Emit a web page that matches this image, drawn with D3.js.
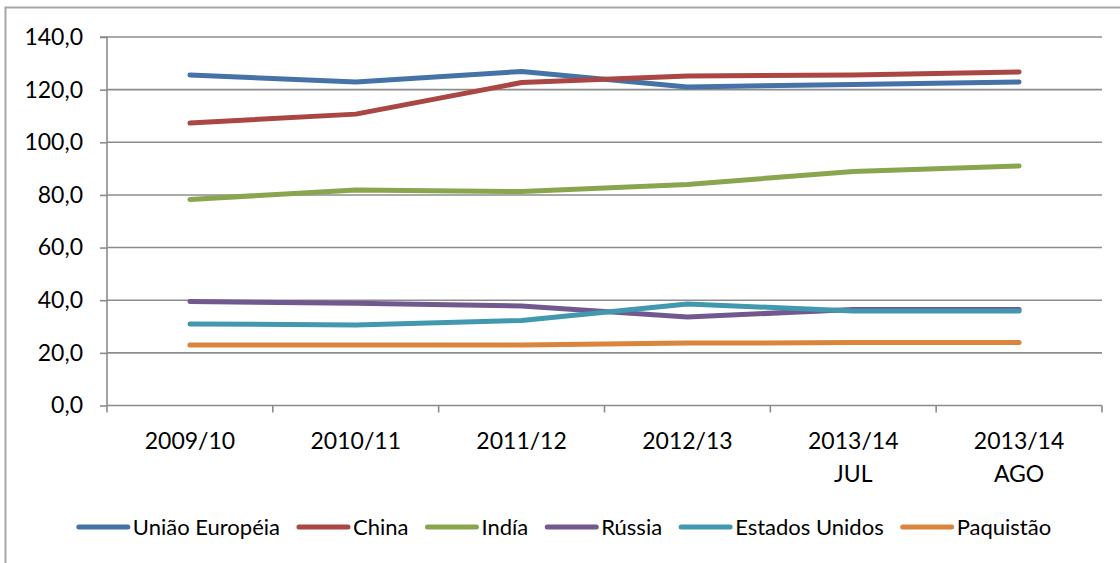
<!DOCTYPE html>
<html><head><meta charset="utf-8">
<script src="https://cdn.jsdelivr.net/npm/d3@7"></script>
<style>body{margin:0;background:#fff}svg{display:block}text{font-family:Lato,"Open Sans",sans-serif;fill:#000}</style>
</head><body><svg id="c" width="1120" height="563"></svg>
<script>
const categories = [["2009/10"],["2010/11"],["2011/12"],["2012/13"],["2013/14","JUL"],["2013/14","AGO"]];
const seriesNames = ["União Européia","China","Indía","Rússia","Estados Unidos","Paquistão"];
const seriesColors = ["#4572A7","#AA4643","#89A54E","#71588F","#4198AF","#DB843D"];
const uniaoEuropeia = [125.6,122.9,126.9,121.0,122.0,122.9];
const china = [107.3,110.7,122.7,125.2,125.6,126.7];
const india = [78.3,81.9,81.3,84.0,88.9,91.0];
const russia = [39.5,38.8,37.8,33.6,36.5,36.5];
const estadosUnidos = [31.0,30.6,32.3,38.6,35.9,35.9];
const paquistao = [23.0,23.0,23.0,23.7,23.9,23.9];
const yTicks = [0,20,40,60,80,100,120,140];
const seriesValues = [uniaoEuropeia,china,india,russia,estadosUnidos,paquistao];

const svg = d3.select("#c");
const L=107, R=1102, T=37, B=405.5;
const FS = "23px", LFS = "22px";
// frame
svg.append("rect").attr("x",5.5).attr("y",7.5).attr("width",1130).attr("height",600)
  .attr("fill","none").attr("stroke","#a6a6a6").attr("stroke-width",2);

const x = d3.scaleBand().domain(categories.map((d,i)=>i)).range([L,R]).padding(0);
const y = d3.scaleLinear().domain([0,140]).range([B,T]);
const fmt = v => d3.format(".1f")(v).replace(".",",");

// grid
svg.append("g").selectAll("line").data(yTicks.filter(v=>v>0)).join("line")
  .attr("x1",L).attr("x2",R).attr("y1",d=>y(d)).attr("y2",d=>y(d))
  .attr("stroke","#8c8c8c").attr("stroke-width",1.6);

// y axis
const ya = svg.append("g").attr("transform",`translate(${L},0)`)
  .call(d3.axisLeft(y).tickValues(yTicks).tickFormat(fmt).tickSize(7).tickPadding(17));
ya.attr("font-family",null).attr("font-size",null);
ya.select(".domain").attr("stroke","#8c8c8c").attr("stroke-width",1.6).attr("d",`M-7,${T}H0V${B}`);
ya.selectAll(".tick line").attr("stroke","#8c8c8c").attr("stroke-width",1.6);
ya.selectAll(".tick text").style("font-size",FS).attr("fill","#000");

// x axis
const xa = svg.append("g").attr("transform",`translate(0,${B})`);
xa.append("line").attr("x1",L).attr("x2",R).attr("stroke","#8c8c8c").attr("stroke-width",1.6);
const bounds = d3.range(categories.length+1).map(i=> i<categories.length ? x(i) : x(i-1)+x.bandwidth());
xa.selectAll(".xt").data(bounds).join("line").attr("class","xt")
  .attr("x1",d=>d).attr("x2",d=>d).attr("y1",0).attr("y2",7)
  .attr("stroke","#8c8c8c").attr("stroke-width",1.6);
const lab = xa.selectAll(".xl").data(categories).join("text").attr("class","xl")
  .attr("text-anchor","middle").style("font-size",FS)
  .attr("transform",(d,i)=>`translate(${x(i)+x.bandwidth()/2},0)`);
lab.selectAll("tspan").data(d=>d).join("tspan").attr("x",0).attr("y",(d,j)=>43+j*33).text(d=>d);

// lines
const line = d3.line().x((d,i)=>x(i)+x.bandwidth()/2).y(d=>y(d));
svg.append("g").selectAll("path").data(seriesValues).join("path")
  .attr("d",line).attr("fill","none").attr("stroke",(d,i)=>seriesColors[i])
  .attr("stroke-width",5).attr("stroke-linecap","round").attr("stroke-linejoin","round");

// legend
const lg = svg.append("g");
const ly = 527, sw = 53, gapT = 3, gapI = 17;
let items = [];
const tmp = lg.append("text").style("font-size",LFS);
let total = 0;
seriesNames.forEach((n,i)=>{ tmp.text(n); const w = tmp.node().getComputedTextLength(); items.push(w); total += sw+gapT+w+(i<seriesNames.length-1?gapI:0);});
tmp.remove();
let cx = 564 - total/2;
seriesNames.forEach((n,i)=>{
  lg.append("line").attr("x1",cx+2).attr("x2",cx+sw-2).attr("y1",ly).attr("y2",ly)
    .attr("stroke",seriesColors[i]).attr("stroke-width",5).attr("stroke-linecap","round");
  lg.append("text").attr("x",cx+sw+gapT).attr("y",ly).attr("dy","0.35em").style("font-size",LFS).text(n);
  cx += sw+gapT+items[i]+gapI;
});
</script></body></html>
